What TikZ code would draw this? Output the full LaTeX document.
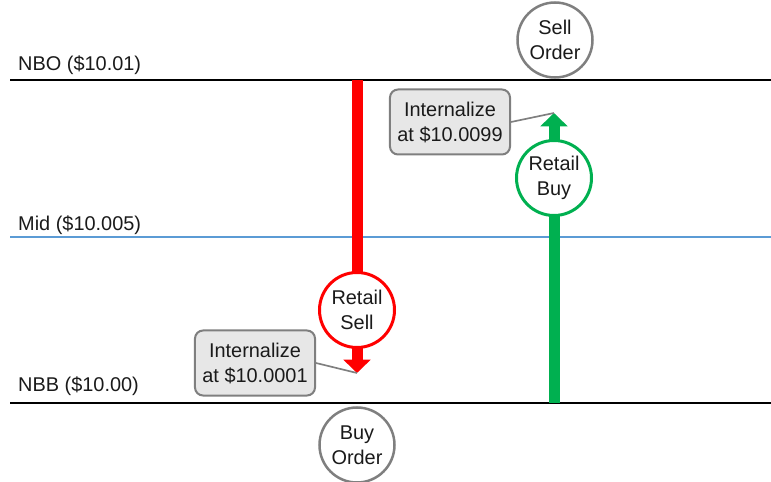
\documentclass[tikz,border=0pt]{standalone}
\usepackage{fontspec}
\setmainfont{Liberation Sans}
\usetikzlibrary{arrows.meta,positioning}
\definecolor{sellred}{HTML}{FF0000}
\definecolor{buygreen}{HTML}{00B050}
\definecolor{midblue}{HTML}{5B9BD5}
\definecolor{ordergray}{HTML}{7F7F7F}
\definecolor{notefill}{HTML}{E7E7E7}
\definecolor{ink}{HTML}{1A1A1A}
\tikzset{
    x=0.03cm, y=-0.03cm,
    level/.style = {line width=0.06cm},
    price/.style = {anchor=base west, inner sep=0pt, text=ink},
    flow/.style = {line width=0.33cm, -{Triangle[width=0.8cm,length=0.4cm]}},
    order/.style = {circle, draw=ordergray, line width=0.075cm, fill=white, text=ink,
        minimum size=2.25cm, align=center, inner sep=0pt},
    retail/.style = {circle, line width=0.09cm, fill=white, text=ink,
        minimum size=2.25cm, align=center, inner sep=0pt},
    note/.style = {rectangle, rounded corners=0.24cm, draw=ordergray, line width=0.06cm,
        fill=notefill, text=ink, minimum width=3.6cm, minimum height=1.95cm,
        align=center, inner sep=0pt},
    callout/.style = {draw=ordergray, line width=0.05cm}
}
\begin{document}
\begin{tikzpicture}[font=\fontsize{17}{21.3}\selectfont]
        \useasboundingbox (0,0) rectangle (771,482);

        % price levels
        \coordinate (nboW) at (10,80);
        \coordinate (nboE) at (771,80);
        \coordinate (midW) at (10,237);
        \coordinate (midE) at (771,237);
        \coordinate (nbbW) at (10,403);
        \coordinate (nbbE) at (771,403);
        \draw[level] (nboW) -- (nboE);
        \draw[level, midblue] (midW) -- (midE);
        \draw[level] (nbbW) -- (nbbE);

        \node[price] (nbo) at (18,71) {NBO (\$10.01)};
        \node[price] (mid) at (18,231) {Mid (\$10.005)};
        \node[price] (nbb) at (18,392) {NBB (\$10.00)};

        % retail sell
        \coordinate (sellfrom) at (357,80);
        \coordinate (selltip) at (357,373);
        \draw[flow, sellred] (sellfrom) -- (selltip);
        \node[retail, draw=sellred] (sell) at (357,310) {Retail\\Sell};
        \node[note] (lownote) at (255,363) {Internalize\\at \$10.0001};
        \draw[callout] (lownote.east) -- (selltip);
        \node[order] (buyorder) at (357,445) {Buy\\Order};

        % retail buy
        \coordinate (buyfrom) at (554,403);
        \coordinate (buytip) at (554,113);
        \draw[flow, buygreen] (buyfrom) -- (buytip);
        \node[retail, draw=buygreen] (buy) at (554,178) {Retail\\Buy};
        \node[note] (highnote) at (450,122) {Internalize\\at \$10.0099};
        \draw[callout] (highnote.east) -- (buytip);
        \node[order] (sellorder) at (555,40) {Sell\\Order};
      \end{tikzpicture}
\end{document}
